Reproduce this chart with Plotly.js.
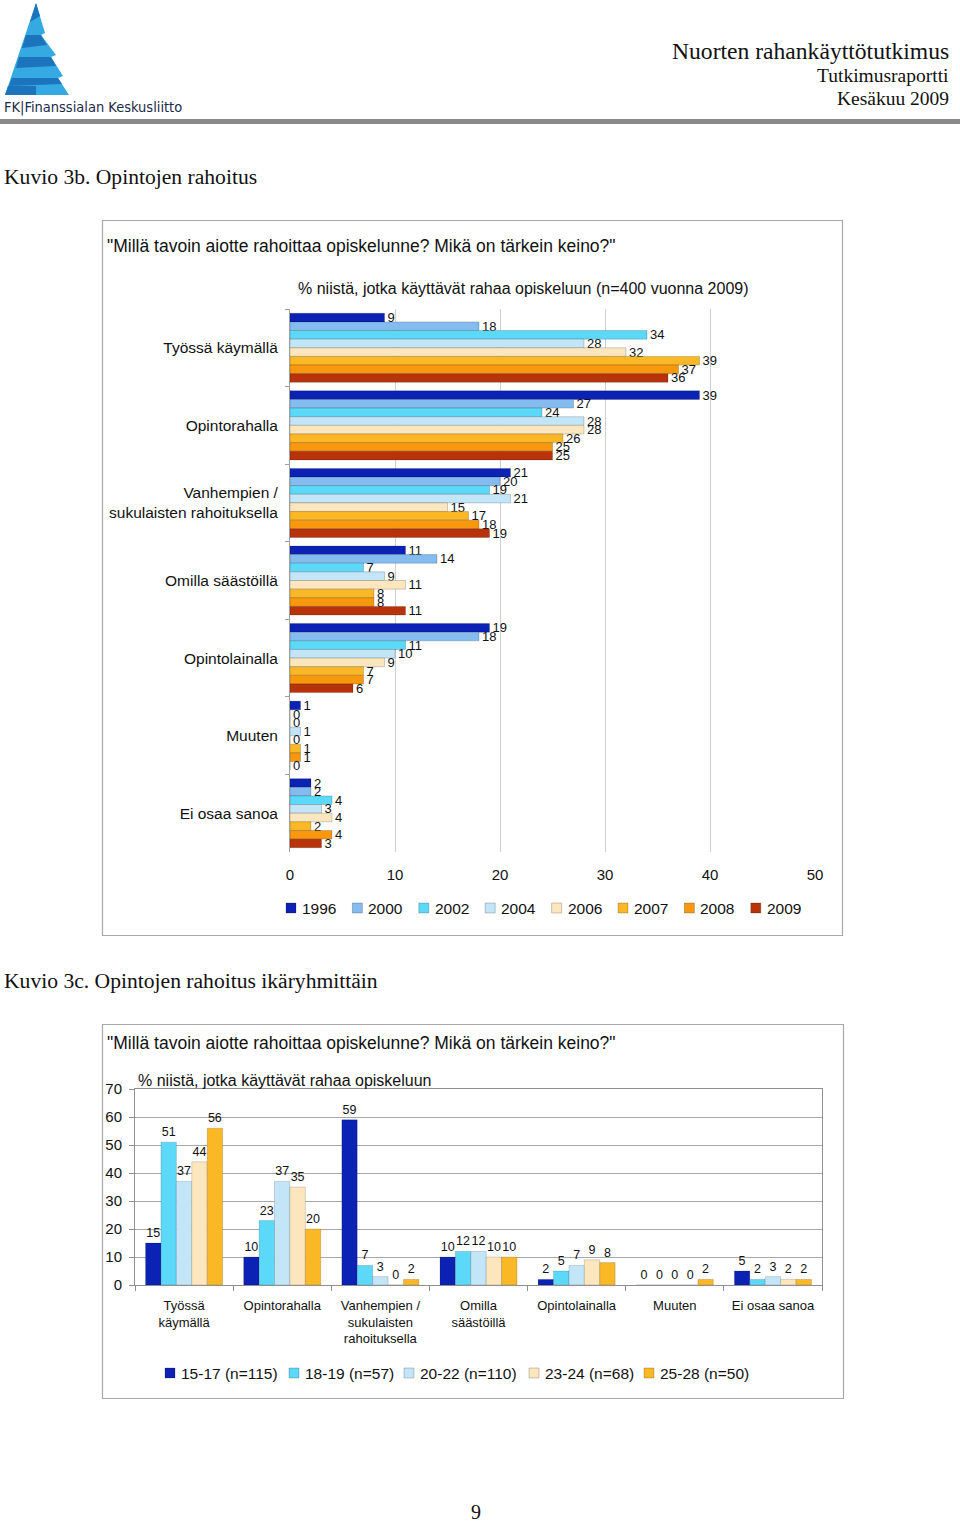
<!DOCTYPE html>
<html><head><meta charset="utf-8">
<script src="https://cdn.plot.ly/plotly-3.0.1.min.js"></script>
<style>html,body{margin:0;padding:0;background:#fff;} #page{width:960px;height:1524px;}</style>
</head><body><div id="page"></div>
<script>
// ---------- DATA: Kuvio 3b ----------
const categories1 = ["Työssä käymällä","Opintorahalla","Vanhempien /<br>sukulaisten rahoituksella","Omilla säästöillä","Opintolainalla","Muuten","Ei osaa sanoa"];
const years = ["1996","2000","2002","2004","2006","2007","2008","2009"];
const v1996 = [9,39,21,11,19,1,2];
const v2000 = [18,27,20,14,18,0,2];
const v2002 = [34,24,19,7,11,0,4];
const v2004 = [28,28,21,9,10,1,3];
const v2006 = [32,28,15,11,9,0,4];
const v2007 = [39,26,17,8,7,1,2];
const v2008 = [37,25,18,8,7,1,4];
const v2009 = [36,25,19,11,6,0,3];
const xTicks1 = [0,10,20,30,40,50];

// ---------- DATA: Kuvio 3c ----------
const categories2 = ["Työssä<br>käymällä","Opintorahalla","Vanhempien /<br>sukulaisten<br>rahoituksella","Omilla<br>säästöillä","Opintolainalla","Muuten","Ei osaa sanoa"];
const ageGroups = ["15-17 (n=115)","18-19 (n=57)","20-22 (n=110)","23-24 (n=68)","25-28 (n=50)"];
const a1517 = [15,10,59,10,2,0,5];
const a1819 = [51,23,7,12,5,0,2];
const a2022 = [37,37,3,12,7,0,3];
const a2324 = [44,35,0,10,9,0,2];
const a2528 = [56,20,2,10,8,2,2];
const yTicks2 = [0,10,20,30,40,50,60,70];

// ---------- STYLE ----------
const W = 960, H = 1524;
const px = x => x / W;
const py = y => 1 - y / H;
const SANS = "Arial, 'Liberation Sans', sans-serif";
const SERIF = "'Times New Roman', 'Liberation Serif', serif";
const yearColors = ["#0B22B4","#84BCF0","#5CD9F8","#C2E5F8","#FCE6BE","#FAB826","#F8980E","#B8320A"];
const ageColors = ["#0B22B4","#5CD9F8","#C2E5F8","#FCE6BE","#FAB826"];
// legend layout (pixel positions of the legend swatches)
const legend1Start = 286, legend1Step = 66.4, legend1Y = 908;
const legend2X = [165, 289, 404, 529, 644], legend2Y = 1373;

const series1 = [v1996,v2000,v2002,v2004,v2006,v2007,v2008,v2009];
const series2 = [a1517,a1819,a2022,a2324,a2528];

const traces = [];
series1.forEach((vals, i) => {
  traces.push({
    type: "bar", orientation: "h", name: years[i],
    y: categories1, x: vals, text: vals.map(String),
    textposition: "outside", constraintext: "none", cliponaxis: false,
    textfont: {family: SANS, size: 13, color: "#111"},
    marker: {color: yearColors[i], line: {color: "rgba(0,0,0,0.3)", width: 0.6}},
    xaxis: "x", yaxis: "y", showlegend: false, hoverinfo: "x+name"
  });
});
const bw = 0.157;
series2.forEach((vals, i) => {
  traces.push({
    type: "bar", name: ageGroups[i],
    x: categories2, y: vals, text: vals.map(String),
    textposition: "outside", constraintext: "none", cliponaxis: false,
    textfont: {family: SANS, size: 12.5, color: "#111"},
    width: bw, offset: -2.5 * bw + i * bw,
    marker: {color: ageColors[i], line: {color: "rgba(0,0,0,0.25)", width: 0.6}},
    xaxis: "x2", yaxis: "y2", showlegend: false, hoverinfo: "y+name"
  });
});

function ann(text, x, y, o) {
  return Object.assign({text: text, x: px(x), y: py(y), xref: "paper", yref: "paper",
    showarrow: false, xanchor: "left", yanchor: "middle",
    font: {family: SANS, size: 15, color: "#111"}}, o || {});
}
function pathOf(pts) {
  return "M" + pts.map(p => px(p[0]).toFixed(5) + "," + py(p[1]).toFixed(5)).join("L") + "Z";
}

const annotations = [
  ann("Nuorten rahankäyttötutkimus", 951, 51, {xanchor: "right", font: {family: SERIF, size: 23.6, color: "#111"}}),
  ann("Tutkimusraportti", 951, 76, {xanchor: "right", font: {family: SERIF, size: 19.5, color: "#111"}}),
  ann("Kesäkuu 2009", 951, 98, {xanchor: "right", font: {family: SERIF, size: 19.5, color: "#111"}}),
  ann("FK|Finanssialan Keskusliitto", 2, 107, {font: {family: "'Liberation Sans Narrow', 'DejaVu Sans Condensed', 'Arial Narrow', sans-serif", size: 14.5, color: "#1a2a4a"}}),
  ann("Kuvio 3b. Opintojen rahoitus", 2, 177, {font: {family: SERIF, size: 21.6, color: "#111"}}),
  ann("\"Millä tavoin aiotte rahoittaa opiskelunne? Mikä on tärkein keino?\"", 105, 246, {font: {family: SANS, size: 17.5, color: "#111"}}),
  ann("% niistä, jotka käyttävät rahaa opiskeluun (n=400 vuonna 2009)", 523, 289, {xanchor: "center", font: {family: SANS, size: 16, color: "#111"}}),
  ann("Kuvio 3c. Opintojen rahoitus ikäryhmittäin", 2, 981, {font: {family: SERIF, size: 21.6, color: "#111"}}),
  ann("\"Millä tavoin aiotte rahoittaa opiskelunne? Mikä on tärkein keino?\"", 105, 1043, {font: {family: SANS, size: 17.5, color: "#111"}}),
  ann("% niistä, jotka käyttävät rahaa opiskeluun", 136, 1080, {font: {family: SANS, size: 16, color: "#111"}}),
  ann("9", 476, 1512, {xanchor: "center", font: {family: SERIF, size: 20, color: "#111"}})
];

const shapes = [
  // header rule
  {type: "rect", xref: "paper", yref: "paper", x0: px(0), x1: px(960), y0: py(119), y1: py(124), fillcolor: "#8a8a8a", line: {width: 0}},
  // chart frames
  {type: "rect", xref: "paper", yref: "paper", x0: px(102.5), x1: px(842.5), y0: py(220.5), y1: py(935.5), line: {color: "#a8a8a8", width: 1.2}},
  {type: "rect", xref: "paper", yref: "paper", x0: px(102.5), x1: px(843.5), y0: py(1024.5), y1: py(1398.5), line: {color: "#a8a8a8", width: 1.2}},
  // logo
  {type: "path", xref: "paper", yref: "paper", path: pathOf([[36,3],[45,33],[41,35],[56,55],[51,57],[63,76],[58,78],[69,95],[5,95]]), fillcolor: "#35A9E1", line: {width: 0}},
  {type: "path", xref: "paper", yref: "paper", path: pathOf([[36,3],[40,16],[30,22]]), fillcolor: "#1C74BC", line: {width: 0}},
  {type: "path", xref: "paper", yref: "paper", path: pathOf([[26,35],[41,35],[47,45],[22,48]]), fillcolor: "#1C74BC", line: {width: 0}},
  {type: "path", xref: "paper", yref: "paper", path: pathOf([[19,57],[51,57],[56,66],[16,68]]), fillcolor: "#1C74BC", line: {width: 0}},
  {type: "path", xref: "paper", yref: "paper", path: pathOf([[12,78],[58,78],[62,84],[9,86]]), fillcolor: "#1C74BC", line: {width: 0}},
  {type: "path", xref: "paper", yref: "paper", path: pathOf([[8,86],[36,86],[36,95],[5,95]]), fillcolor: "#1C74BC", line: {width: 0}}
];

// legends built from the series names and colours
function addLegendItem(x, y, color, label, size) {
  shapes.push({type: "rect", xref: "paper", yref: "paper",
    x0: px(x), x1: px(x + 10), y0: py(y + 5), y1: py(y - 5),
    fillcolor: color, line: {color: "rgba(0,0,0,0.35)", width: 0.6}});
  annotations.push(ann(label, x + 14, y, {font: {family: SANS, size: size, color: "#111"}}));
}
years.forEach((yr, i) => addLegendItem(legend1Start + i * legend1Step, legend1Y, yearColors[i], yr, 15.5));
ageGroups.forEach((g, i) => addLegendItem(legend2X[i], legend2Y, ageColors[i], g, 15.5));

const layout = {
  width: W, height: H, margin: {l: 0, r: 0, t: 0, b: 0},
  paper_bgcolor: "#fff", plot_bgcolor: "rgba(0,0,0,0)",
  barmode: "group", bargap: 0.11, bargroupgap: 0,
  font: {family: SANS, size: 15, color: "#111"},
  showlegend: false,
  xaxis: {domain: [px(290), px(815)], range: [0, 50], anchor: "y", tickvals: xTicks1,
    showgrid: true, gridcolor: "#cfcfcf", gridwidth: 1, zeroline: false, showline: false,
    ticks: "", ticklabelstandoff: 12, tickfont: {family: SANS, size: 15, color: "#111"}, fixedrange: true},
  yaxis: {domain: [py(852), py(309)], type: "category", categoryorder: "array", categoryarray: categories1,
    autorange: "reversed", anchor: "x", showline: true, linecolor: "#a0a0a0", linewidth: 1,
    ticks: "outside", ticklen: 4, tickcolor: "#a0a0a0", tickson: "boundaries", showgrid: false,
    ticklabelstandoff: 8, tickfont: {family: SANS, size: 15.5, color: "#111"}, fixedrange: true},
  xaxis2: {domain: [px(135), px(822)], anchor: "y2", type: "category", categoryorder: "array", categoryarray: categories2,
    showline: true, linecolor: "#909090", mirror: true, ticks: "outside", ticklen: 5, tickcolor: "#909090",
    tickson: "boundaries", showgrid: false, ticklabelstandoff: 8,
    tickfont: {family: SANS, size: 13, color: "#111"}, fixedrange: true},
  yaxis2: {domain: [py(1285), py(1089)], anchor: "x2", range: [0, 70], tickvals: yTicks2,
    showline: true, linecolor: "#909090", mirror: true, ticks: "outside", ticklen: 5, tickcolor: "#909090",
    showgrid: true, gridcolor: "#a8a8a8", zeroline: false, ticklabelstandoff: 4,
    tickfont: {family: SANS, size: 15, color: "#111"}, fixedrange: true},
  annotations: annotations, shapes: shapes
};

Plotly.newPlot("page", traces, layout, {staticPlot: true, displayModeBar: false});
</script>
</body></html>
